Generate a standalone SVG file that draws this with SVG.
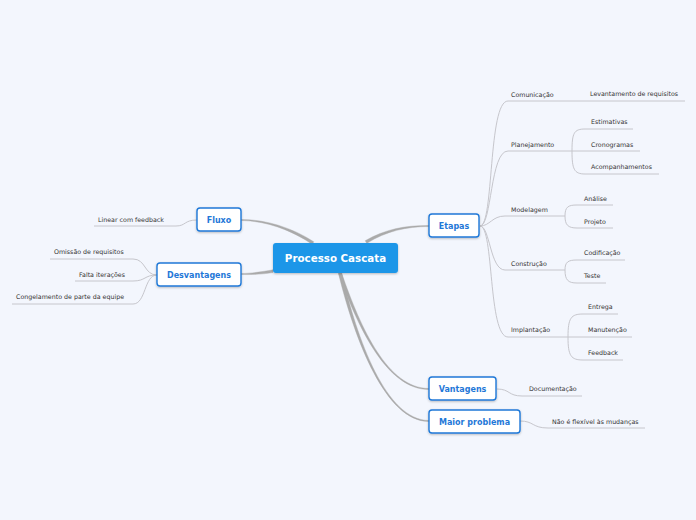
<svg xmlns="http://www.w3.org/2000/svg" width="696" height="520" viewBox="0 0 696 520">
<defs>
<filter id="sh" x="-20%" y="-30%" width="140%" height="160%"><feDropShadow dx="0" dy="1" stdDeviation="0.8" flood-color="#000" flood-opacity="0.25"/></filter>
</defs>
<style>
.bg{fill:#f3f6fd}
.main{fill:#aaaaaa;stroke:#aaaaaa;stroke-width:0.4;stroke-linejoin:round}
.sub{fill:none;stroke:#c6c6cc;stroke-width:1}
.node rect{fill:#ffffff;stroke:#1f78d8;stroke-width:1.4}
.node text{font-family:"DejaVu Sans",Verdana,sans-serif;font-weight:bold;font-size:8px;fill:#1f78d8;text-anchor:middle}
.leaf{font-family:"DejaVu Sans",Verdana,sans-serif;font-size:6.3px;fill:#333333}
</style>
<rect class="bg" x="0" y="0" width="696" height="520"/>
<g id="connectors">
<path class="main" d="M313.8,241.8 C292.7,228 266,219.3 241,219.5 L241,220.5 C266,220.7 291.3,230 312.2,244.2 Z"/>
<path class="main" d="M366.8,243.3 C386.6,231 406,226.7 429,226.5 L429,225.5 C406,225.3 385.4,229 365.2,240.7 Z"/>
<path class="main" d="M273,269.8 C260,272 252,273.3 241,273.5 L241,274.5 C252,274.7 260,274.5 273,272.6 Z"/>
<path class="main" d="M338.6,273.5 C358.9,330.4 388,389.7 429,389.5 L429,388.5 C388,388.3 361.1,329.6 341.4,272.5 Z"/>
<path class="main" d="M338.5,273.4 C354.8,340.3 386,421.7 429,421.5 L429,420.5 C386,420.3 357.2,339.7 341.5,272.6 Z"/>
<!-- Etapas subtopics -->
<path class="sub" d="M480,226 C494,226 488,101 508,101 L685,101"/>
<path class="sub" d="M480,226 C492,226 490,151 508,151 L572,151"/>
<path class="sub" d="M480,226 C490,226 492,216 505,216 L565,216"/>
<path class="sub" d="M480,226 C490,226 490,270 505,270 L565,270"/>
<path class="sub" d="M480,226 C494,226 488,337 508,337 L568,337"/>
<!-- Planejamento leaves -->
<path class="sub" d="M572,151 C572,133 574,129 585,129 L633,129"/>
<path class="sub" d="M572,151 L640,151"/>
<path class="sub" d="M572,151 C572,169 574,174 585,174 L659,174"/>
<!-- Modelagem leaves -->
<path class="sub" d="M565,216 C565,207 568,205 577,205 L613,205"/>
<path class="sub" d="M565,216 C565,225 568,228 577,228 L613,228"/>
<!-- Construção leaves -->
<path class="sub" d="M565,270 C565,262 568,260 577,260 L625,260"/>
<path class="sub" d="M565,270 C565,280 568,283 577,283 L606,283"/>
<!-- Implantação leaves -->
<path class="sub" d="M568,337 C568,318 571,314 583,314 L618,314"/>
<path class="sub" d="M568,337 L632,337"/>
<path class="sub" d="M568,337 C568,356 571,360 583,360 L623,360"/>
<!-- Vantagens / Maior problema leaves -->
<path class="sub" d="M497,389 C510,389 508,396 522,396 L582,396"/>
<path class="sub" d="M520,421 C534,421 532,428 548,428 L645,428"/>
<!-- Left leaves -->
<path class="sub" d="M197,220 C184,220 186,226 176,226 L94,226"/>
<path class="sub" d="M157,275 C144,275 146,259 133,259 L50,259"/>
<path class="sub" d="M157,275 C144,275 146,281 133,281 L75,281"/>
<path class="sub" d="M157,275 C144,275 146,304 133,304 L12,304"/>
</g>
<g id="central">
<rect x="273" y="243" width="125" height="30" rx="3" fill="#1b96e8" filter="url(#sh)"/>
<text x="335.5" y="262" font-family="'DejaVu Sans',Verdana,sans-serif" font-weight="bold" font-size="10.3" fill="#ffffff" text-anchor="middle">Processo Cascata</text>
</g>
<g id="etapas" class="node"><rect x="429" y="214" width="50" height="23" rx="3" filter="url(#sh)"/><text x="454" y="228.5">Etapas</text></g>
<g id="vantagens" class="node"><rect x="429" y="377" width="67" height="23" rx="3" filter="url(#sh)"/><text x="462.5" y="391.5">Vantagens</text></g>
<g id="maior" class="node"><rect x="429" y="410" width="91" height="23" rx="3" filter="url(#sh)"/><text x="474.5" y="424.5">Maior problema</text></g>
<g id="fluxo" class="node"><rect x="197" y="208" width="44" height="23" rx="3" filter="url(#sh)"/><text x="219" y="222.5">Fluxo</text></g>
<g id="desvantagens" class="node"><rect x="157" y="263" width="84" height="23" rx="3" filter="url(#sh)"/><text x="199" y="277.5">Desvantagens</text></g>
<g id="leaves">
<text class="leaf" x="511" y="97">Comunicação</text>
<text class="leaf" x="590" y="96">Levantamento de requisitos</text>
<text class="leaf" x="511" y="147">Planejamento</text>
<text class="leaf" x="591" y="124">Estimativas</text>
<text class="leaf" x="591" y="147">Cronogramas</text>
<text class="leaf" x="591" y="169">Acompanhamentos</text>
<text class="leaf" x="511" y="212">Modelagem</text>
<text class="leaf" x="584" y="200.5">Análise</text>
<text class="leaf" x="584" y="224">Projeto</text>
<text class="leaf" x="511" y="266">Construção</text>
<text class="leaf" x="584" y="255">Codificação</text>
<text class="leaf" x="584" y="278">Teste</text>
<text class="leaf" x="511" y="332">Implantação</text>
<text class="leaf" x="588" y="309">Entrega</text>
<text class="leaf" x="588" y="332">Manutenção</text>
<text class="leaf" x="588" y="355">Feedback</text>
<text class="leaf" x="529" y="391">Documentação</text>
<text class="leaf" x="552" y="424">Não é flexível às mudanças</text>
<text class="leaf" x="98" y="221.5">Linear com feedback</text>
<text class="leaf" x="54" y="254">Omissão de requisitos</text>
<text class="leaf" x="79" y="276.5">Falta iterações</text>
<text class="leaf" x="16" y="299">Congelamento de parte da equipe</text>
</g>
</svg>
